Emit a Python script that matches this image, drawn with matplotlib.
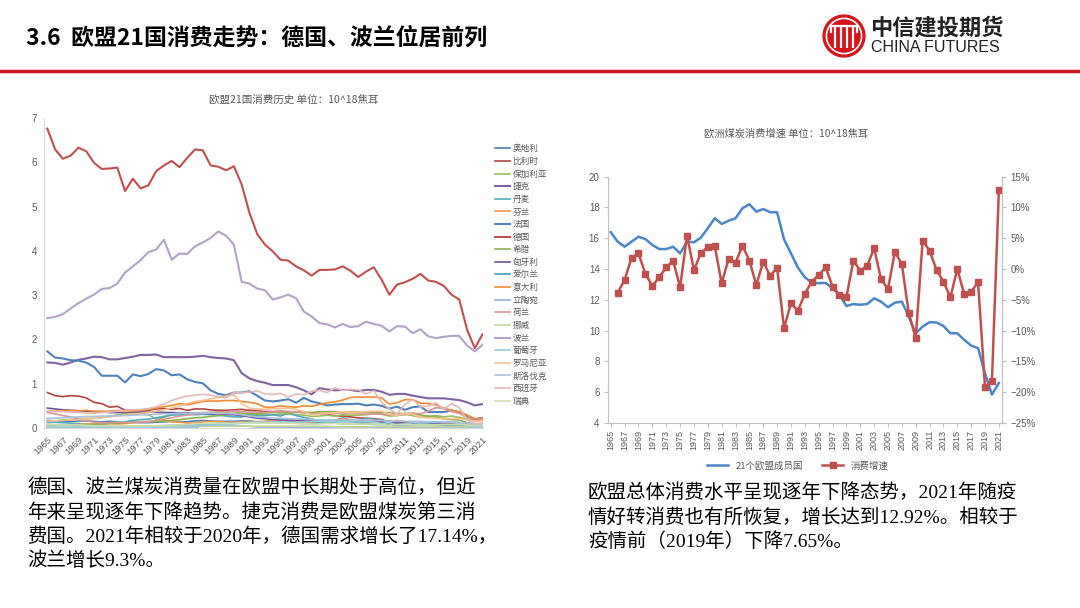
import matplotlib.pyplot as plt
from matplotlib.lines import Line2D
from matplotlib.patches import Circle
from matplotlib.ticker import FuncFormatter

plt.rcParams['font.family'] = ['Noto Sans CJK SC', 'DejaVu Sans']
plt.rcParams['axes.unicode_minus'] = False

# ---------------- data ----------------
years = list(range(1965, 2022))

countries = ['奥地利', '比利时', '保加利亚', '捷克', '丹麦', '芬兰', '法国', '德国',
             '希腊', '匈牙利', '爱尔兰', '意大利', '立陶宛', '荷兰', '挪威', '波兰',
             '葡萄牙', '罗马尼亚', '斯洛伐克', '西班牙', '瑞典']

austria = [0.17, 0.16, 0.15, 0.15, 0.16, 0.16, 0.15, 0.14, 0.15, 0.14,
           0.12, 0.13, 0.12, 0.12, 0.13, 0.14, 0.15, 0.14, 0.14, 0.16,
           0.17, 0.16, 0.15, 0.15, 0.15, 0.16, 0.16, 0.13, 0.13, 0.12,
           0.14, 0.15, 0.14, 0.13, 0.12, 0.13, 0.14, 0.15, 0.16, 0.16,
           0.16, 0.16, 0.16, 0.15, 0.12, 0.14, 0.14, 0.13, 0.14, 0.13,
           0.14, 0.13, 0.13, 0.12, 0.10, 0.09, 0.10]
belgium = [0.80, 0.73, 0.71, 0.73, 0.72, 0.68, 0.58, 0.55, 0.47, 0.49,
           0.40, 0.40, 0.39, 0.40, 0.43, 0.44, 0.42, 0.44, 0.40, 0.43,
           0.43, 0.41, 0.40, 0.40, 0.41, 0.42, 0.40, 0.39, 0.37, 0.37,
           0.38, 0.37, 0.36, 0.36, 0.32, 0.33, 0.30, 0.28, 0.27, 0.25,
           0.23, 0.22, 0.21, 0.19, 0.13, 0.15, 0.14, 0.12, 0.13, 0.12,
           0.12, 0.12, 0.11, 0.11, 0.10, 0.08, 0.08]
bulgaria = [0.15, 0.16, 0.18, 0.19, 0.20, 0.21, 0.22, 0.23, 0.26, 0.30,
            0.32, 0.31, 0.32, 0.30, 0.20, 0.24, 0.30, 0.33, 0.33, 0.34,
            0.35, 0.35, 0.36, 0.36, 0.37, 0.33, 0.29, 0.30, 0.30, 0.30,
            0.31, 0.31, 0.30, 0.29, 0.26, 0.27, 0.29, 0.27, 0.30, 0.29,
            0.29, 0.30, 0.32, 0.31, 0.27, 0.28, 0.31, 0.28, 0.24, 0.26,
            0.28, 0.25, 0.27, 0.24, 0.21, 0.17, 0.21]
czech = [1.48, 1.47, 1.43, 1.48, 1.54, 1.57, 1.61, 1.60, 1.55, 1.55,
         1.58, 1.61, 1.65, 1.65, 1.66, 1.60, 1.60, 1.60, 1.60, 1.61,
         1.63, 1.60, 1.58, 1.57, 1.53, 1.24, 1.12, 1.06, 1.02, 0.97,
         0.97, 0.97, 0.92, 0.85, 0.76, 0.90, 0.87, 0.85, 0.86, 0.86,
         0.83, 0.86, 0.86, 0.82, 0.75, 0.77, 0.77, 0.73, 0.70, 0.67,
         0.67, 0.67, 0.65, 0.63, 0.58, 0.51, 0.54]
denmark = [0.12, 0.13, 0.12, 0.11, 0.10, 0.09, 0.08, 0.09, 0.11, 0.12,
           0.14, 0.17, 0.19, 0.20, 0.23, 0.26, 0.29, 0.30, 0.31, 0.30,
           0.31, 0.30, 0.29, 0.27, 0.25, 0.25, 0.31, 0.27, 0.28, 0.30,
           0.27, 0.34, 0.28, 0.24, 0.20, 0.17, 0.17, 0.17, 0.23, 0.18,
           0.15, 0.22, 0.19, 0.17, 0.16, 0.15, 0.13, 0.10, 0.13, 0.10,
           0.07, 0.08, 0.06, 0.06, 0.03, 0.03, 0.03]
finland = [0.07, 0.07, 0.06, 0.07, 0.08, 0.09, 0.09, 0.09, 0.10, 0.09,
           0.10, 0.12, 0.14, 0.15, 0.15, 0.16, 0.14, 0.13, 0.11, 0.11,
           0.14, 0.15, 0.15, 0.13, 0.13, 0.14, 0.15, 0.14, 0.15, 0.18,
           0.15, 0.17, 0.16, 0.14, 0.13, 0.14, 0.15, 0.17, 0.21, 0.18,
           0.12, 0.18, 0.17, 0.13, 0.12, 0.17, 0.13, 0.11, 0.13, 0.13,
           0.10, 0.10, 0.09, 0.09, 0.07, 0.06, 0.06]
france = [1.73, 1.59, 1.57, 1.53, 1.52, 1.48, 1.38, 1.18, 1.18, 1.18,
          1.03, 1.21, 1.17, 1.22, 1.33, 1.30, 1.19, 1.21, 1.10, 1.04,
          1.01, 0.85, 0.77, 0.74, 0.80, 0.80, 0.83, 0.73, 0.62, 0.60,
          0.62, 0.65, 0.57, 0.68, 0.60, 0.56, 0.51, 0.53, 0.54, 0.54,
          0.55, 0.51, 0.53, 0.50, 0.44, 0.48, 0.41, 0.47, 0.49, 0.36,
          0.36, 0.36, 0.40, 0.35, 0.28, 0.20, 0.23]
germany = [6.76, 6.29, 6.08, 6.15, 6.33, 6.25, 5.99, 5.85, 5.86, 5.88,
           5.35, 5.63, 5.41, 5.48, 5.80, 5.93, 6.03, 5.89, 6.10, 6.29,
           6.27, 5.93, 5.90, 5.82, 5.91, 5.50, 4.86, 4.38, 4.14, 3.99,
           3.80, 3.78, 3.65, 3.56, 3.44, 3.57, 3.57, 3.58, 3.65, 3.55,
           3.41, 3.53, 3.63, 3.35, 3.01, 3.24, 3.29, 3.37, 3.48, 3.33,
           3.30, 3.21, 3.01, 2.90, 2.22, 1.80, 2.12]
greece = [0.05, 0.05, 0.06, 0.06, 0.07, 0.07, 0.08, 0.09, 0.10, 0.11,
          0.12, 0.13, 0.13, 0.14, 0.15, 0.16, 0.17, 0.19, 0.21, 0.23,
          0.24, 0.26, 0.28, 0.30, 0.31, 0.33, 0.32, 0.33, 0.34, 0.35,
          0.35, 0.34, 0.35, 0.36, 0.35, 0.37, 0.37, 0.37, 0.36, 0.36,
          0.36, 0.35, 0.36, 0.35, 0.35, 0.32, 0.33, 0.33, 0.29, 0.27,
          0.25, 0.20, 0.19, 0.18, 0.12, 0.07, 0.06]
hungary = [0.45, 0.43, 0.41, 0.40, 0.39, 0.38, 0.37, 0.36, 0.35, 0.35,
           0.35, 0.36, 0.36, 0.36, 0.36, 0.35, 0.35, 0.34, 0.34, 0.33,
           0.33, 0.32, 0.32, 0.31, 0.30, 0.28, 0.25, 0.22, 0.21, 0.19,
           0.18, 0.18, 0.17, 0.17, 0.16, 0.16, 0.15, 0.15, 0.15, 0.14,
           0.13, 0.13, 0.13, 0.13, 0.11, 0.11, 0.11, 0.10, 0.09, 0.09,
           0.09, 0.09, 0.09, 0.08, 0.07, 0.06, 0.06]
ireland = [0.06, 0.06, 0.05, 0.05, 0.05, 0.05, 0.04, 0.04, 0.03, 0.03,
           0.03, 0.03, 0.03, 0.04, 0.05, 0.05, 0.06, 0.06, 0.07, 0.07,
           0.08, 0.09, 0.10, 0.11, 0.11, 0.12, 0.13, 0.13, 0.12, 0.12,
           0.11, 0.11, 0.11, 0.10, 0.10, 0.11, 0.12, 0.11, 0.10, 0.10,
           0.10, 0.10, 0.08, 0.08, 0.07, 0.06, 0.07, 0.07, 0.08, 0.08,
           0.08, 0.07, 0.06, 0.06, 0.03, 0.02, 0.03]
italy = [0.38, 0.38, 0.39, 0.39, 0.39, 0.40, 0.38, 0.38, 0.38, 0.40,
         0.37, 0.38, 0.40, 0.42, 0.45, 0.48, 0.51, 0.55, 0.52, 0.56,
         0.60, 0.61, 0.61, 0.62, 0.62, 0.60, 0.58, 0.55, 0.47, 0.47,
         0.50, 0.48, 0.47, 0.50, 0.49, 0.53, 0.57, 0.59, 0.63, 0.69,
         0.70, 0.70, 0.70, 0.68, 0.54, 0.57, 0.64, 0.64, 0.56, 0.55,
         0.52, 0.45, 0.40, 0.37, 0.29, 0.21, 0.22]
lithuania = [0.00, 0.00, 0.00, 0.00, 0.00, 0.00, 0.00, 0.00, 0.00, 0.00,
             0.00, 0.00, 0.00, 0.00, 0.00, 0.00, 0.00, 0.00, 0.00, 0.00,
             0.06, 0.06, 0.06, 0.05, 0.05, 0.05, 0.04, 0.02, 0.01, 0.01,
             0.01, 0.01, 0.01, 0.01, 0.01, 0.01, 0.01, 0.01, 0.01, 0.01,
             0.01, 0.01, 0.01, 0.01, 0.01, 0.01, 0.01, 0.01, 0.01, 0.01,
             0.01, 0.01, 0.01, 0.01, 0.01, 0.01, 0.01]
netherlands = [0.35, 0.32, 0.28, 0.25, 0.20, 0.17, 0.13, 0.12, 0.12, 0.13,
               0.12, 0.12, 0.13, 0.14, 0.17, 0.20, 0.23, 0.27, 0.29, 0.32,
               0.33, 0.35, 0.36, 0.37, 0.38, 0.37, 0.36, 0.36, 0.35, 0.36,
               0.37, 0.37, 0.36, 0.34, 0.32, 0.32, 0.34, 0.34, 0.34, 0.34,
               0.33, 0.31, 0.32, 0.32, 0.29, 0.30, 0.30, 0.34, 0.32, 0.38,
               0.46, 0.44, 0.37, 0.33, 0.24, 0.16, 0.19]
norway = [0.04, 0.04, 0.04, 0.04, 0.04, 0.04, 0.04, 0.03, 0.03, 0.03,
          0.03, 0.03, 0.03, 0.03, 0.04, 0.04, 0.04, 0.04, 0.04, 0.04,
          0.04, 0.04, 0.04, 0.04, 0.04, 0.04, 0.04, 0.04, 0.04, 0.04,
          0.04, 0.04, 0.04, 0.04, 0.04, 0.04, 0.04, 0.03, 0.03, 0.03,
          0.03, 0.03, 0.03, 0.03, 0.03, 0.03, 0.03, 0.03, 0.03, 0.03,
          0.03, 0.03, 0.03, 0.03, 0.03, 0.03, 0.03]
poland = [2.48, 2.51, 2.57, 2.70, 2.82, 2.92, 3.01, 3.14, 3.16, 3.26,
          3.51, 3.65, 3.79, 3.97, 4.03, 4.25, 3.80, 3.94, 3.93, 4.10,
          4.19, 4.29, 4.44, 4.34, 4.14, 3.30, 3.26, 3.15, 3.11, 2.90,
          2.95, 3.01, 2.93, 2.63, 2.52, 2.37, 2.34, 2.27, 2.35, 2.28,
          2.30, 2.40, 2.35, 2.31, 2.18, 2.30, 2.29, 2.14, 2.23, 2.07,
          2.03, 2.06, 2.08, 2.08, 1.86, 1.73, 1.88]
portugal = [0.02, 0.02, 0.02, 0.02, 0.02, 0.02, 0.02, 0.02, 0.02, 0.02,
            0.02, 0.02, 0.02, 0.02, 0.02, 0.02, 0.02, 0.02, 0.03, 0.04,
            0.06, 0.07, 0.08, 0.08, 0.09, 0.11, 0.12, 0.13, 0.13, 0.13,
            0.14, 0.13, 0.13, 0.14, 0.15, 0.15, 0.14, 0.15, 0.14, 0.14,
            0.14, 0.14, 0.13, 0.10, 0.12, 0.07, 0.09, 0.12, 0.11, 0.12,
            0.14, 0.13, 0.13, 0.11, 0.06, 0.03, 0.01]
romania = [0.15, 0.16, 0.17, 0.18, 0.19, 0.20, 0.22, 0.24, 0.26, 0.27,
           0.29, 0.31, 0.33, 0.35, 0.38, 0.41, 0.45, 0.50, 0.55, 0.60,
           0.62, 0.66, 0.69, 0.72, 0.75, 0.55, 0.45, 0.43, 0.42, 0.44,
           0.44, 0.45, 0.42, 0.37, 0.30, 0.31, 0.33, 0.35, 0.37, 0.35,
           0.35, 0.37, 0.38, 0.38, 0.31, 0.29, 0.33, 0.31, 0.24, 0.23,
           0.22, 0.21, 0.21, 0.21, 0.18, 0.15, 0.16]
slovakia = [0.22, 0.22, 0.23, 0.24, 0.25, 0.26, 0.26, 0.27, 0.27, 0.28,
            0.28, 0.29, 0.30, 0.30, 0.31, 0.32, 0.32, 0.33, 0.33, 0.34,
            0.34, 0.34, 0.33, 0.33, 0.32, 0.30, 0.27, 0.25, 0.24, 0.22,
            0.22, 0.21, 0.21, 0.20, 0.19, 0.18, 0.18, 0.18, 0.18, 0.18,
            0.18, 0.18, 0.17, 0.17, 0.15, 0.16, 0.15, 0.15, 0.15, 0.14,
            0.13, 0.13, 0.13, 0.13, 0.11, 0.09, 0.10]
spain = [0.38, 0.37, 0.37, 0.36, 0.35, 0.34, 0.33, 0.35, 0.36, 0.38,
         0.39, 0.41, 0.42, 0.44, 0.48, 0.54, 0.62, 0.68, 0.72, 0.74,
         0.76, 0.74, 0.71, 0.68, 0.80, 0.80, 0.81, 0.84, 0.77, 0.76,
         0.78, 0.70, 0.77, 0.75, 0.83, 0.85, 0.80, 0.91, 0.85, 0.87,
         0.86, 0.77, 0.84, 0.58, 0.43, 0.32, 0.53, 0.65, 0.48, 0.49,
         0.57, 0.42, 0.55, 0.46, 0.18, 0.10, 0.11]
sweden = [0.08, 0.07, 0.07, 0.07, 0.07, 0.06, 0.05, 0.05, 0.05, 0.05,
          0.05, 0.05, 0.05, 0.05, 0.05, 0.06, 0.06, 0.07, 0.08, 0.09,
          0.10, 0.11, 0.11, 0.11, 0.11, 0.12, 0.12, 0.11, 0.11, 0.11,
          0.11, 0.11, 0.10, 0.10, 0.09, 0.09, 0.10, 0.10, 0.10, 0.10,
          0.09, 0.09, 0.09, 0.08, 0.06, 0.08, 0.08, 0.07, 0.07, 0.07,
          0.07, 0.08, 0.08, 0.08, 0.07, 0.06, 0.07]

series = [austria, belgium, bulgaria, czech, denmark, finland, france, germany,
          greece, hungary, ireland, italy, lithuania, netherlands, norway, poland,
          portugal, romania, slovakia, spain, sweden]

# 欧盟21国合计 (10^18 J) 与 增速 (%)
eu_total = [16.39, 15.78, 15.45, 15.78, 16.10, 15.95, 15.56, 15.30, 15.30, 15.45,
            15.02, 15.78, 15.74, 16.04, 16.65, 17.30, 16.93, 17.14, 17.30, 17.95,
            18.21, 17.73, 17.90, 17.69, 17.69, 15.93, 15.02, 14.09, 13.47, 13.12,
            13.08, 13.10, 12.75, 12.32, 11.60, 11.73, 11.68, 11.73, 12.10, 11.88,
            11.52, 11.82, 11.88, 10.91, 9.83, 10.26, 10.55, 10.53, 10.30, 9.83,
            9.83, 9.40, 9.03, 8.86, 7.20, 5.85, 6.60]
growth = [-3.83, -1.77, 1.85, 2.56, -0.80, -2.74, -1.33, 0.29, 1.37, -2.96,
          5.43, -0.15, 2.56, 3.64, 3.74, -2.31, 1.64, 1.04, 3.80, 1.37,
          -2.58, 1.20, -1.12, 0.23, -9.61, -5.55, -6.75, -4.04, -2.04, -0.96,
          0.29, -2.85, -4.20, -4.58, 1.37, -0.26, 0.55, 3.37, -1.66, -3.23,
          2.83, 0.77, -7.18, -11.24, 4.61, 2.99, -0.15, -2.04, -4.58, 0.02,
          -4.10, -3.67, -2.15, -19.20, -18.10, 12.92]

colors = ['#4A7CB8', '#B2443F', '#9BBB59', '#8064A2', '#4BACC6', '#F79646',
          '#4F81BD', '#C0504D', '#8DB04A', '#6F549A', '#40A2BC', '#F58A32',
          '#95B3D7', '#D99694', '#C3D69B', '#B3A2C7', '#93CDDD', '#FAC090',
          '#A9C1DE', '#E6B9B8', '#D0DEB0']

W, H = 1080, 608
fig = plt.figure(figsize=(W / 100, H / 100), dpi=100)
fig.patch.set_facecolor('white')


def rect(x0, y0, x1, y1):
    # pixel box (top-left origin) -> figure fraction
    return [x0 / W, 1 - y1 / H, (x1 - x0) / W, (y1 - y0) / H]


tick_font = ['Liberation Sans', 'Noto Sans CJK SC']
grey = '#595959'

# ---------------- header ----------------
fig.text(26 / W, 1 - 38 / H, '3.6  欧盟21国消费走势：德国、波兰位居前列',
         fontsize=16.5, fontweight='bold', va='center', ha='left', color='black')
fig.add_artist(Line2D([0, 1], [1 - 71 / H, 1 - 71 / H], color='#C8161D', lw=2.5))

# logo
lax = fig.add_axes(rect(822, 14, 866, 58))
lax.set_xlim(-1.05, 1.05)
lax.set_ylim(-1.05, 1.05)
lax.set_aspect('equal')
lax.axis('off')
lax.add_patch(Circle((0, 0), 1.0, color='#D7141A'))
lax.add_patch(Circle((0, 0), 0.84, fill=False, ec='white', lw=1.2))
for xx in (-0.42, -0.14, 0.14, 0.42):
    lax.plot([xx, xx], [-0.55, 0.5], color='white', lw=1.6, solid_capstyle='butt')
lax.plot([-0.6, 0.6], [0.5, 0.5], color='white', lw=1.6)
lax.plot([-0.6, -0.6], [0.5, 0.2], color='white', lw=1.6)
lax.plot([0.6, 0.6], [0.5, 0.2], color='white', lw=1.6)
fig.text(870 / W, 1 - 28 / H, '中信建投期货', fontsize=16, fontweight='bold',
         va='center', ha='left', color='#222222')
fig.text(871 / W, 1 - 48 / H, 'CHINA FUTURES', fontsize=11.5, va='center', ha='left',
         color='#222222', family=['Liberation Sans', 'DejaVu Sans'])

# ---------------- left chart ----------------
ax1 = fig.add_axes(rect(44, 118, 483, 428))
for name, vals, c in zip(countries, series, colors):
    lw = 1.5 if name in ('德国', '波兰', '捷克', '法国') else 1.2
    ax1.plot(years, vals, color=c, lw=lw, label=name)
ax1.set_xlim(1964.57, 2021.05)
ax1.set_ylim(0, 7)
ax1.set_yticks(range(0, 8))
ax1.set_xticks(years[::2])
ax1.set_xticklabels([str(y) for y in years[::2]], rotation=45, ha='right', va='top',
                    rotation_mode='anchor', fontsize=6.8, color=grey, family=tick_font)
for lab in ax1.get_yticklabels():
    lab.set_fontsize(7)
    lab.set_color(grey)
    lab.set_family(tick_font)
ax1.tick_params(axis='both', length=0, pad=5)
for s in ('top', 'right'):
    ax1.spines[s].set_visible(False)
ax1.spines['left'].set_color('#D9D9D9')
ax1.spines['bottom'].set_color('#D9D9D9')
ax1.set_facecolor('none')
fig.text(294 / W, 1 - 100 / H, '欧盟21国消费历史 单位：10^18焦耳', fontsize=7.6,
         color=grey, ha='center', va='center')
ax1.legend(loc='upper left', bbox_to_anchor=(491 / W, 1 - 140 / H),
           bbox_transform=fig.transFigure, frameon=False, fontsize=6.2,
           handlelength=1.7, handletextpad=0.3, labelspacing=0.42,
           borderpad=0, labelcolor=grey)

# ---------------- right chart ----------------
ax2 = fig.add_axes(rect(608, 176.7, 1002, 423))
ax2.plot(years, eu_total, color='#4A86C8', lw=1.8, label='21个欧盟成员国')
ax2.set_xlim(1964.6, 2021.45)
ax2.set_ylim(4, 20)
ax2.set_yticks(range(4, 21, 2))
ax2.set_xticks(years[::2])
ax2.set_xticklabels([str(y) for y in years[::2]], rotation=90, fontsize=6.5,
                    color=grey, family=tick_font)
for lab in ax2.get_yticklabels():
    lab.set_fontsize(7)
    lab.set_color(grey)
    lab.set_family(tick_font)
ax2.tick_params(axis='x', length=3, color='#BFBFBF', pad=2)
ax2.tick_params(axis='y', length=3, color='#BFBFBF', pad=3)
ax2.spines['top'].set_visible(False)
for s in ('left', 'bottom', 'right'):
    ax2.spines[s].set_color('#BFBFBF')

ax3 = ax2.twinx()
ax3.plot(years[1:], growth, color='#C0504D', lw=1.8, marker='s', markersize=5,
         label='消费增速')
ax3.set_ylim(-25, 15)
ax3.set_yticks(range(-25, 16, 5))
ax3.yaxis.set_major_formatter(FuncFormatter(
    lambda v, p: ('−%d%%' % abs(v)) if v < 0 else '%d%%' % v))
for lab in ax3.get_yticklabels():
    lab.set_fontsize(7)
    lab.set_color(grey)
    lab.set_family(tick_font)
ax3.tick_params(axis='y', length=3, color='#BFBFBF', pad=3)
for s in ('top', 'left', 'bottom'):
    ax3.spines[s].set_visible(False)
ax3.spines['right'].set_color('#BFBFBF')

fig.text(786 / W, 1 - 134 / H, '欧洲煤炭消费增速 单位：10^18焦耳', fontsize=7.4,
         color=grey, ha='center', va='center')
h1, l1 = ax2.get_legend_handles_labels()
h2, l2 = ax3.get_legend_handles_labels()
ax3.legend(h1 + h2, l1 + l2, loc='center', bbox_to_anchor=(798 / W, 1 - 466 / H),
           bbox_transform=fig.transFigure, ncol=2, frameon=False, fontsize=6.8,
           handlelength=2.2, columnspacing=2.0, labelcolor=grey)

# ---------------- bottom text ----------------
txt_font = ['Liberation Serif', 'Noto Sans CJK SC']
left_lines = ['德国、波兰煤炭消费量在欧盟中长期处于高位，但近',
              '年来呈现逐年下降趋势。捷克消费是欧盟煤炭第三消',
              '费国。2021年相较于2020年，德国需求增长了17.14%，',
              '波兰增长9.3%。']
right_lines = ['欧盟总体消费水平呈现逐年下降态势，2021年随疫',
               '情好转消费也有所恢复，增长达到12.92%。相较于',
               '疫情前（2019年）下降7.65%。']
for i, line in enumerate(left_lines):
    fig.text(27 / W, 1 - (488 + 24.3 * i) / H, line, fontsize=14, family=txt_font,
             va='center', ha='left', color='black')
for i, line in enumerate(right_lines):
    fig.text(588 / W, 1 - (493 + 24.5 * i) / H, line, fontsize=14, family=txt_font,
             va='center', ha='left', color='black')

fig.savefig('out.png', dpi=100, facecolor='white')
